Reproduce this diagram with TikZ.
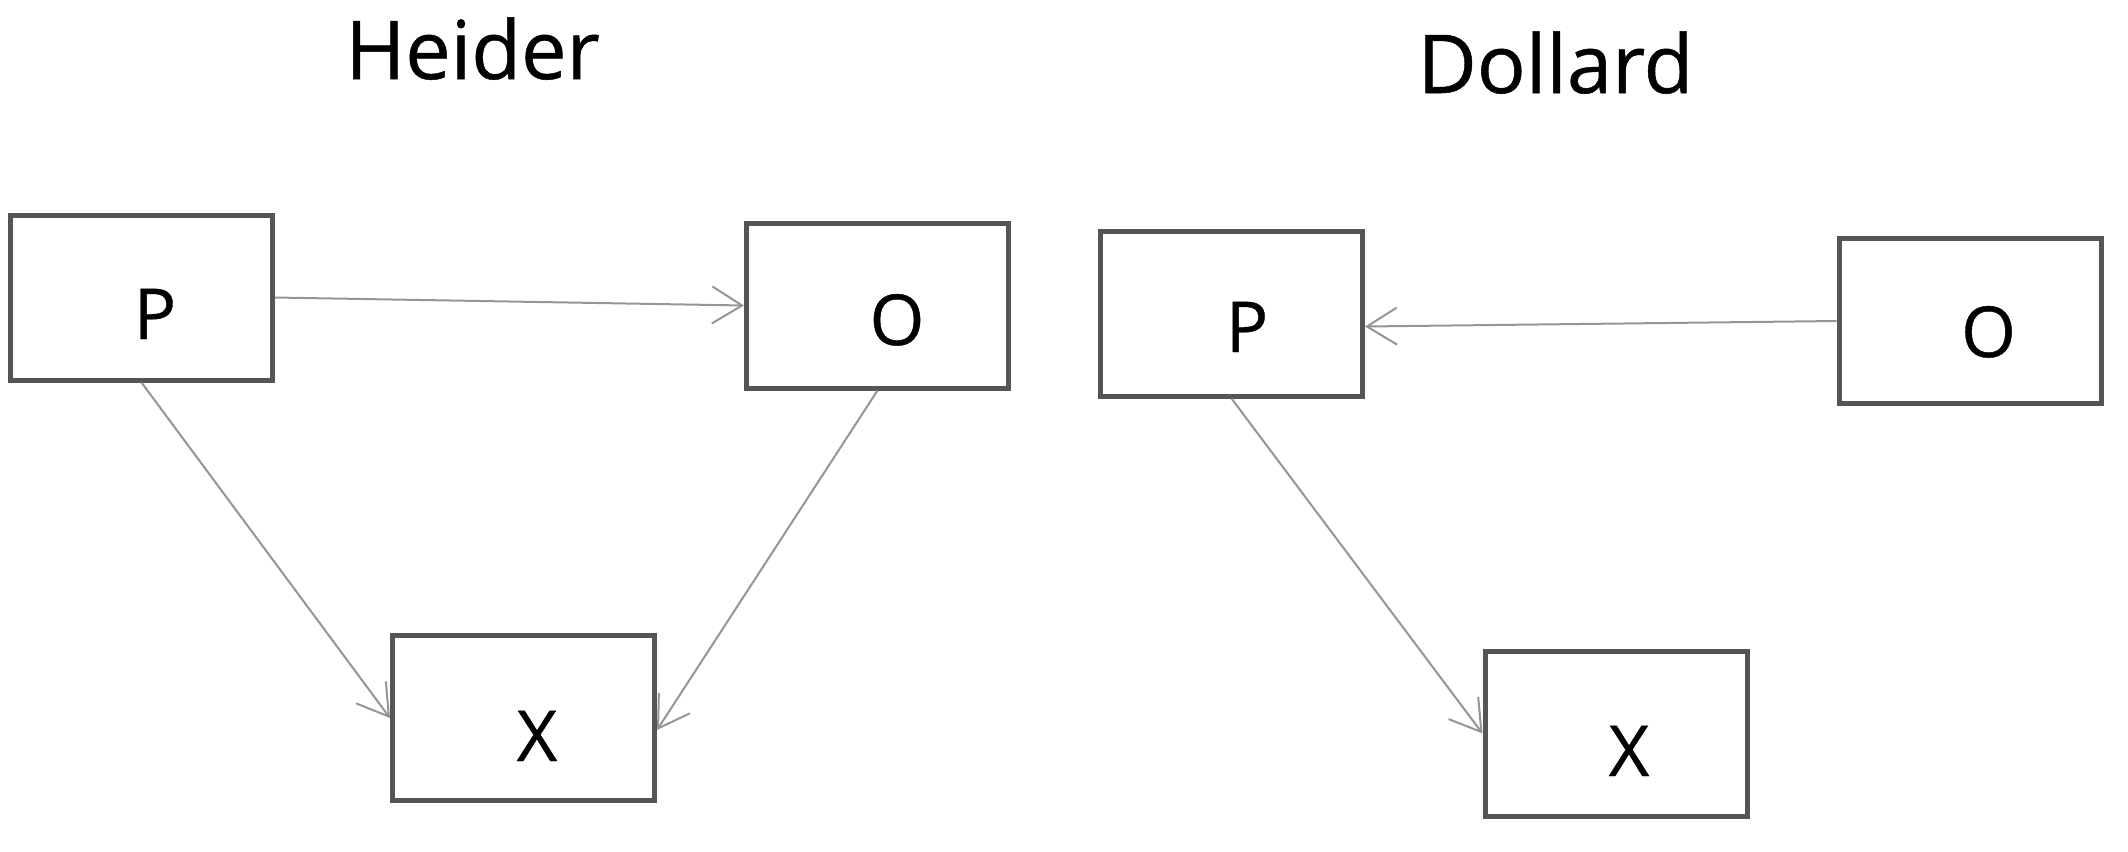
\documentclass[tikz,border=0pt]{standalone}
\usepackage{fontspec}
\setmainfont{Open Sans}[FakeBold=0.6]
\usetikzlibrary{arrows.meta}
\definecolor{boxgray}{HTML}{555555}
\definecolor{linkgray}{HTML}{959595}
\begin{document}
\begin{tikzpicture}[
  box/.style={draw=boxgray, line width=0.05cm, minimum width=2.62cm, minimum height=1.65cm, inner sep=0pt},
  letter/.style={anchor=base, inner sep=0pt, font=\fontsize{20}{24}\selectfont},
  title/.style={anchor=base, inner sep=0pt, font=\fontsize{23.1}{28}\selectfont},
  link/.style={draw=linkgray, line width=0.02cm, -{Straight Barb[length=0.3cm,width=0.37cm]}}]
\useasboundingbox (0,0) rectangle (21.28,-8.51);

\node[title] (heider) at (4.725,-0.79) {Heider};
\node[title] (dollard) at (15.555,-0.93) {Dollard};

\node[box] (hP) at (1.415,-2.975) {};
\node[box] (hO) at (8.775,-3.055) {};
\node[box] (hX) at (5.235,-7.18) {};

\node[letter] (hPl) at (1.55,-3.39) {P};
\node[letter] (hOl) at (8.97,-3.45) {O};
\node[letter] (hXl) at (5.37,-7.61) {X};

\draw[link] (hP.east) -- (hO.west);
\draw[link] (hP.south) -- (hX.west);
\draw[link] (hO.south) -- ([yshift=-0.12cm]hX.east);

\node[box] (dP) at (12.315,-3.135) {};
\node[box] (dO) at (19.70,-3.21) {};
\node[box] (dX) at (16.16,-7.335) {};

\node[letter] (dPl) at (12.47,-3.52) {P};
\node[letter] (dOl) at (19.885,-3.57) {O};
\node[letter] (dXl) at (16.29,-7.76) {X};

\draw[link] (dO.west) -- ([yshift=-0.13cm]dP.east);
\draw[link] (dP.south) -- (dX.west);
\end{tikzpicture}
\end{document}
